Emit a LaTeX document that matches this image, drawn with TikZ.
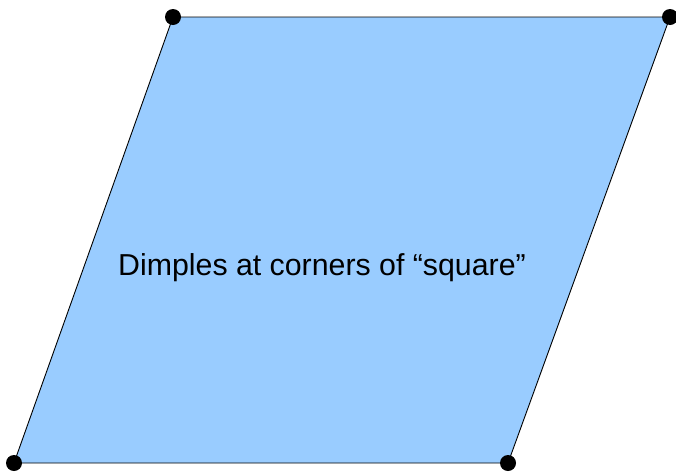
\documentclass[tikz,border=0pt]{standalone}
\usepackage{fontspec}
\setmainfont{Liberation Sans}
\usepackage{xcolor}
\usepackage{tikz}
\definecolor{SheetBlue}{HTML}{99CCFF}

\begin{document}
\begin{tikzpicture}[
    x=1pt,y=-1pt,
    sheet/.style={fill=SheetBlue, draw=black, line width=0.9pt},
    dimple/.style={circle, fill=black, inner sep=0pt, minimum size=16pt},
    caption/.style={font=\fontsize{30.3}{36}\selectfont}
  ]
    \useasboundingbox (0,0) rectangle (676,472);

    % corners of the sheet
    \coordinate (tl) at (173,17);
    \coordinate (tr) at (670,17);
    \coordinate (br) at (508,463);
    \coordinate (bl) at (14,463);

    \filldraw[sheet] (tl) -- (tr) -- (br) -- (bl) -- cycle;

    \foreach \c in {tl,tr,br,bl}
      \node[dimple] (d-\c) at (\c) {};

    \node[caption] (label) at (322,268) {Dimples at corners of “square”};
  \end{tikzpicture}
\end{document}
